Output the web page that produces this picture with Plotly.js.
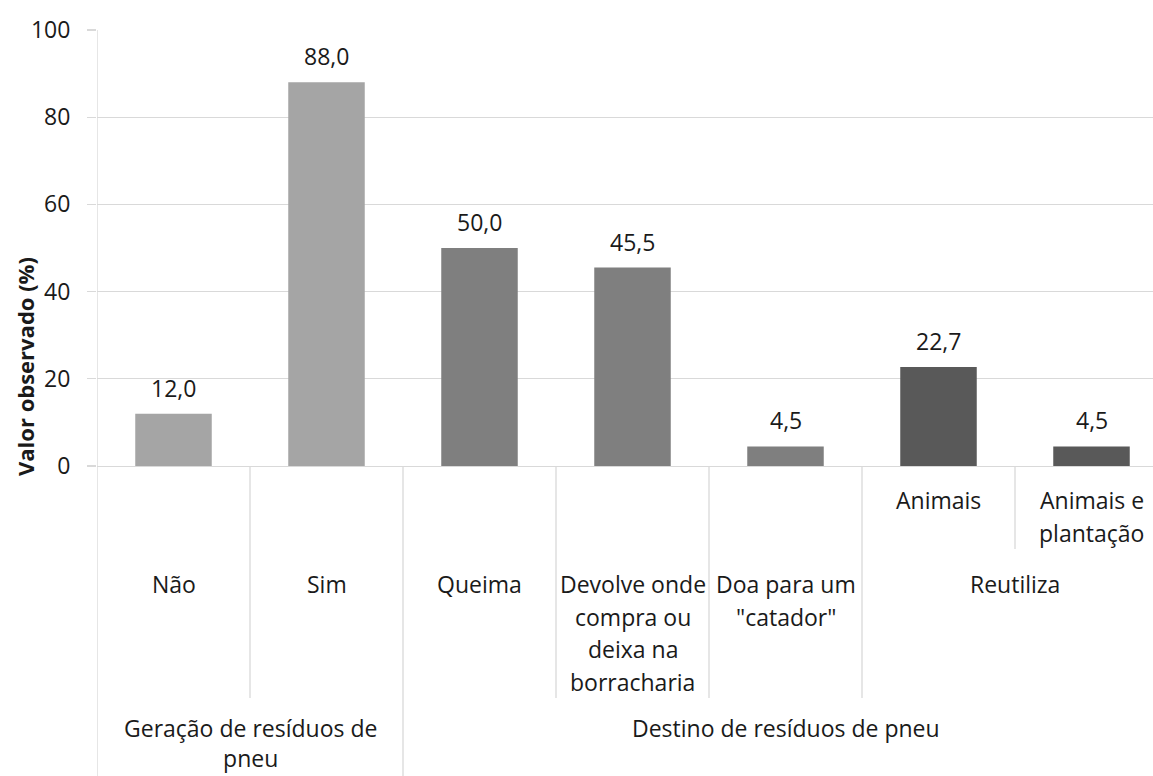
<!DOCTYPE html>
<html>
<head>
<meta charset="utf-8">
<script src="https://cdn.plot.ly/plotly-3.0.1.min.js"></script>
<style>
html,body{margin:0;padding:0;overflow:hidden;background:#fff;width:1153px;height:776px;}
#chart{width:1170px;height:776px;}
</style>
</head>
<body>
<div id="chart"></div>
<script>
// ---- data ----
const categories = ["Não", "Sim", "Queima", "Devolve onde\ncompra ou\ndeixa na\nborracharia", "Doa para um\n\"catador\"", "Animais", "Animais e\nplantação"];
const subgroups = ["Não", "Sim", "Queima", "Devolve onde\ncompra ou\ndeixa na\nborracharia", "Doa para um\n\"catador\"", "Reutiliza", "Reutiliza"];
const groups = ["Geração de resíduos de\npneu", "Geração de resíduos de\npneu", "Destino de resíduos de pneu", "Destino de resíduos de pneu", "Destino de resíduos de pneu", "Destino de resíduos de pneu", "Destino de resíduos de pneu"];
const values = [12.0, 88.0, 50.0, 45.5, 4.5, 22.7, 4.5];
const yTicks = [0, 20, 40, 60, 80, 100];
const yTitle = "Valor observado (%)";

// ---- layout geometry (pixels) ----
const W = 1170, H = 776;
const plotLeft = 97, plotRight = 1168, plotTop = 30, plotBottom = 466;
const ph = plotBottom - plotTop;
const py = p => (plotBottom - p) / ph;   // pixel y -> paper y
const FONT = "Open Sans";
const TXT = "#1a1a1a";
const GRID = "#d9d9d9";
const fs = 23;

const n = categories.length;
const xs = categories.map((c, i) => i);

// colours by level of hierarchy
const barColors = categories.map((c, i) => {
  if (groups[i] === groups[0]) return "#a5a5a5";
  const subCount = subgroups.filter(s => s === subgroups[i]).length;
  return subCount > 1 ? "#595959" : "#7f7f7f";
});

const trace = {
  type: "bar",
  x: xs,
  y: values,
  width: 0.5,
  marker: {color: barColors, line: {width: 0}},
  hoverinfo: "skip"
};

const annotations = [];
function addLines(text, x, firstCenterPx, lineH) {
  text.split("\n").forEach((line, k) => {
    annotations.push({
      xref: "x", yref: "paper", x: x, y: py(firstCenterPx + k * lineH),
      text: line, showarrow: false, xanchor: "center", yanchor: "middle",
      font: {family: FONT, size: fs, color: TXT}
    });
  });
}

// data labels
values.forEach((v, i) => {
  annotations.push({
    xref: "x", yref: "y", x: xs[i], y: v, yshift: 26,
    text: v.toFixed(1).replace(".", ","), showarrow: false,
    xanchor: "center", yanchor: "middle",
    font: {family: FONT, size: fs, color: TXT}
  });
});

// spans helper
function spans(arr) {
  const out = [];
  let s = 0;
  for (let i = 1; i <= arr.length; i++) {
    if (i === arr.length || arr[i] !== arr[s]) { out.push({start: s, end: i - 1}); s = i; }
  }
  return out;
}
const subSpans = spans(subgroups.map((s, i) => groups[i] + "|" + s));
const grpSpans = spans(groups);

subSpans.forEach(sp => {
  if (sp.end > sp.start) {
    for (let i = sp.start; i <= sp.end; i++) addLines(categories[i], xs[i], 500, 32.5);
  }
  addLines(subgroups[sp.start], (xs[sp.start] + xs[sp.end]) / 2, 584, 32.5);
});
grpSpans.forEach(sp => {
  annotations.push({
    xref: "x", yref: "paper", x: (xs[sp.start] + xs[sp.end]) / 2, y: py(710),
    text: groups[sp.start].split("\n").join("<br>"), showarrow: false,
    xanchor: "center", yanchor: "top", align: "center",
    font: {family: FONT, size: fs, color: TXT}
  });
});

// y-axis title
annotations.push({
  xref: "paper", yref: "paper", x: (25 - plotLeft) / (plotRight - plotLeft), y: py(367),
  text: "<b>" + yTitle + "</b>", textangle: -90, showarrow: false,
  xanchor: "center", yanchor: "middle",
  font: {family: FONT, size: 22, color: TXT}
});

// separators
const shapes = [];
for (let b = 0; b <= n; b++) {
  let bottomPx;
  if (b === 0 || b === n || groups[b] !== groups[b - 1]) bottomPx = H;
  else if (subgroups[b] !== subgroups[b - 1]) bottomPx = 698;
  else bottomPx = 549;
  shapes.push({
    type: "line", xref: "x", yref: "paper",
    x0: b - 0.5, x1: b - 0.5, y0: (b === 0 ? 1 : 0), y1: py(bottomPx),
    line: {color: GRID, width: 1.3}
  });
}

const layout = {
  width: W, height: H,
  margin: {l: plotLeft, r: W - plotRight, t: plotTop, b: H - plotBottom, pad: 0},
  paper_bgcolor: "#fff", plot_bgcolor: "#fff",
  font: {family: FONT, size: fs, color: TXT},
  showlegend: false,
  xaxis: {
    range: [-0.5, n - 0.5], showticklabels: false, ticks: "", showgrid: false,
    zeroline: false, showline: true, linecolor: GRID, linewidth: 1.3, fixedrange: true
  },
  yaxis: {
    range: [0, 100], tickvals: yTicks, ticktext: yTicks.map(String),
    showgrid: true, gridcolor: GRID, gridwidth: 1.3, zeroline: false,
    ticks: "outside", ticklen: 9, tickcolor: GRID, tickwidth: 1.3,
    ticklabelstandoff: 12, showline: false,
    tickfont: {family: FONT, size: fs, color: TXT}, fixedrange: true
  },
  annotations: annotations,
  shapes: shapes
};

Plotly.newPlot("chart", [trace], layout, {displayModeBar: false, staticPlot: true});
</script>
</body>
</html>
